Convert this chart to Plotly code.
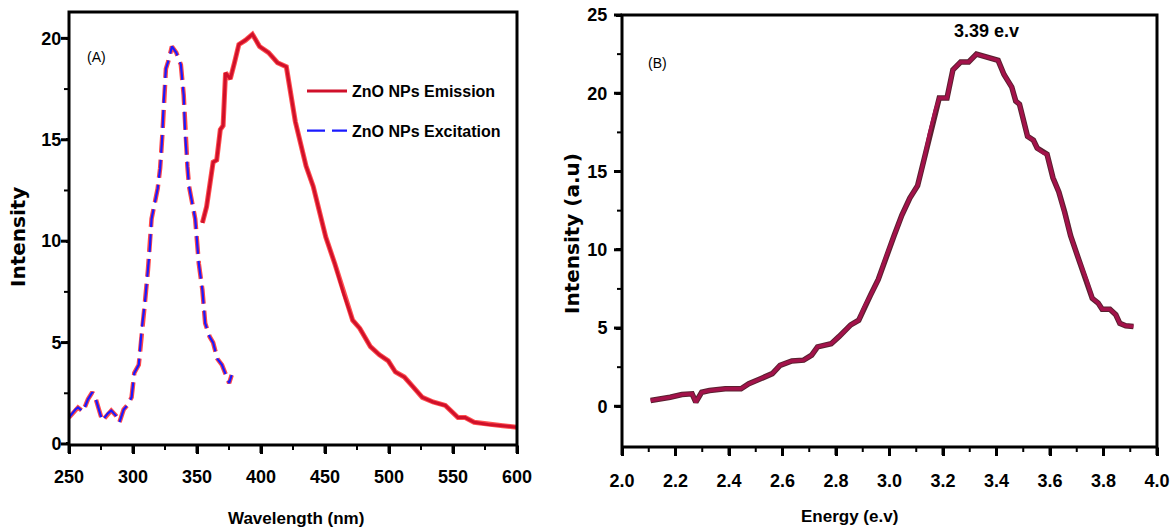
import plotly.graph_objects as go

# Panel A: emission spectrum (wavelength nm, intensity)
em_wl = [354.2, 357.5, 362.6, 365.4, 368.2, 370.4, 372.3, 376.0, 379.3, 382.7, 387.7, 393.3,
         398.9, 405.9, 412.9, 419.8, 426.8, 435.2, 440.8, 446.4, 450.6, 457.6, 464.6, 471.6,
         477.2, 485.5, 492.5, 499.4, 505.0, 512.0, 519.0, 526.0, 534.4, 544.0, 553.9, 559.5,
         566.5, 577.6, 588.8, 600.0]
em_int = [10.9, 11.7, 13.9, 14.0, 15.5, 15.7, 18.3, 18.0, 18.8, 19.7, 19.9, 20.2,
          19.6, 19.3, 18.8, 18.6, 15.9, 13.7, 12.7, 11.2, 10.2, 8.9, 7.4, 6.1,
          5.7, 4.8, 4.4, 4.1, 3.55, 3.3, 2.8, 2.3, 2.07, 1.9, 1.3, 1.3,
          1.07, 0.96, 0.9, 0.83]

# Panel A: excitation spectrum
ex_wl = [250.0, 255.0, 257.0, 261.0, 264.8, 268.2, 271.0, 276.0, 280.2, 283.0, 286.6, 289.4,
         292.7, 295.5, 298.9, 301.0, 304.5, 306.7, 309.5, 311.7, 313.1, 314.5, 319.3, 321.2,
         322.9, 324.0, 325.7, 327.7, 330.4, 333.8, 337.4, 339.6, 340.8, 342.5, 343.8, 348.6,
         351.4, 354.2, 356.4, 359.8, 362.6, 365.9, 369.5, 375.1, 377.1]
ex_int = [1.3, 1.7, 1.8, 1.6, 2.2, 2.55, 2.2, 1.15, 1.5, 1.65, 1.4, 1.07,
          1.7, 1.9, 2.3, 3.5, 3.9, 5.6, 7.1, 8.6, 9.6, 11.1, 12.6, 13.6,
          15.2, 16.9, 18.5, 18.9, 19.6, 19.3, 18.7, 17.2, 15.2, 13.7, 12.7, 11.1,
          8.9, 7.6, 5.95, 5.3, 5.0, 4.2, 3.9, 3.0, 3.4]

# Panel B: energy spectrum
en_ev = [2.107, 2.151, 2.18, 2.224, 2.262, 2.276, 2.298, 2.327, 2.386, 2.445, 2.474, 2.518,
         2.562, 2.591, 2.635, 2.679, 2.709, 2.731, 2.782, 2.811, 2.855, 2.885, 2.907, 2.929,
         2.958, 2.988, 3.017, 3.046, 3.076, 3.105, 3.127, 3.149, 3.171, 3.186, 3.215, 3.237,
         3.266, 3.296, 3.325, 3.369, 3.406, 3.428, 3.457, 3.472, 3.486, 3.516, 3.538, 3.552,
         3.574, 3.589, 3.611, 3.633, 3.655, 3.677, 3.707, 3.736, 3.758, 3.780, 3.795, 3.824,
         3.846, 3.861, 3.883, 3.912]
en_int = [0.37, 0.47, 0.58, 0.75, 0.8, 0.26, 0.9, 1.01, 1.12, 1.12, 1.44, 1.76,
          2.09, 2.62, 2.9, 2.95, 3.27, 3.8, 4.0, 4.45, 5.2, 5.5, 6.4, 7.1,
          8.1, 9.6, 10.9, 12.2, 13.3, 14.1, 15.6, 17.4, 18.9, 19.7, 19.7, 21.5,
          22.0, 22.0, 22.5, 22.3, 22.1, 21.2, 20.4, 19.5, 19.3, 17.25, 17.0, 16.5,
          16.2, 16.1, 14.6, 13.7, 12.4, 10.9, 9.4, 8.1, 6.9, 6.6, 6.2, 6.2,
          5.85, 5.3, 5.15, 5.1]

# Tick values
xa_ticks = [250, 300, 350, 400, 450, 500, 550, 600]
ya_ticks = [0, 5, 10, 15, 20]
xb_ticks = [2.0, 2.2, 2.4, 2.6, 2.8, 3.0, 3.2, 3.4, 3.6, 3.8, 4.0]
yb_ticks = [0, 5, 10, 15, 20, 25]

NARROW = "Liberation Sans Narrow, Arial Narrow, Liberation Sans, Arial, sans-serif"
WIDE = "DejaVu Sans, Verdana, sans-serif"

W, H = 1175, 528
ML, MR, MT, MB = 2, 2, 2, 2
PW, PH = W - ML - MR, H - MT - MB


def px_x(p):
    return (p - ML) / PW


def px_y(p):
    return 1 - (p - MT) / PH


# panel pixel boxes and ranges
A_L, A_R, A_T, A_B = 69, 517, 12, 445
B_L, B_R, B_T, B_B = 622, 1157, 15, 447
A_XR, A_YR = [250, 600], [-0.05, 21.3]
B_XR, B_YR = [2.0, 4.0], [-2.6, 25]
PAD = 10

fig = go.Figure()

fig.add_trace(go.Scatter(x=em_wl, y=em_int, mode="lines", xaxis="x", yaxis="y",
                         line=dict(color="rgba(255,20,20,0.75)", width=5),
                         showlegend=False, hoverinfo="skip"))
fig.add_trace(go.Scatter(x=em_wl, y=em_int, mode="lines", xaxis="x", yaxis="y",
                         name="ZnO NPs Emission", legendgroup="a",
                         line=dict(color="#d0102a", width=3)))
fig.add_trace(go.Scatter(x=ex_wl, y=ex_int, mode="lines", xaxis="x", yaxis="y",
                         line=dict(color="rgba(255,40,40,0.85)", width=4.5, dash="18px,7px"),
                         showlegend=False, hoverinfo="skip"))
fig.add_trace(go.Scatter(x=ex_wl, y=ex_int, mode="lines", xaxis="x", yaxis="y",
                         name="ZnO NPs Excitation", legendgroup="b",
                         line=dict(color="#1a1aff", width=2.2, dash="18px,7px")))

fig.add_trace(go.Scatter(x=en_ev, y=en_int, mode="lines", xaxis="x2", yaxis="y2",
                         line=dict(color="#5a2030", width=5.5), showlegend=False, hoverinfo="skip"))
fig.add_trace(go.Scatter(x=en_ev, y=en_int, mode="lines", xaxis="x2", yaxis="y2",
                         line=dict(color="#a3124a", width=3.5), showlegend=False))


def mids(vals):
    return [(a + b) / 2 for a, b in zip(vals[:-1], vals[1:])]


def frame_and_ticks(xax, yax, xr, yr, L, R, T, B, xt, yt):
    """Frame and outward ticks drawn on a hidden overlay subplot that is PAD px larger."""
    kx = (xr[1] - xr[0]) / (R - L)
    ky = (yr[1] - yr[0]) / (B - T)
    x0, x1 = xr
    y0, y1 = yr
    # frame
    fig.add_trace(go.Scatter(x=[x0, x1, x1, x0, x0], y=[y0, y0, y1, y1, y0], mode="lines",
                             xaxis=xax, yaxis=yax, line=dict(color="black", width=3),
                             showlegend=False, hoverinfo="skip"))
    for vals_x, vals_y, length, width in ((xt, yt, 8, 3), (mids(xt), mids(yt), 5, 2)):
        tx, ty = [], []
        for v in vals_x:
            tx += [v, v, None]
            ty += [y0, y0 - length * ky, None]
        for v in vals_y:
            tx += [x0, x0 - length * kx, None]
            ty += [v, v, None]
        fig.add_trace(go.Scatter(x=tx, y=ty, mode="lines", xaxis=xax, yaxis=yax,
                                 line=dict(color="black", width=width),
                                 showlegend=False, hoverinfo="skip"))
    xdom = [px_x(L - PAD), px_x(R + PAD)]
    ydom = [px_y(B + PAD), px_y(T - PAD)]
    xrng = [x0 - PAD * kx, x1 + PAD * kx]
    yrng = [y0 - PAD * ky, y1 + PAD * ky]
    return xdom, ydom, xrng, yrng


a_xd, a_yd, a_xr, a_yr = frame_and_ticks("x3", "y3", A_XR, A_YR, A_L, A_R, A_T, A_B, xa_ticks, ya_ticks)
b_xd, b_yd, b_xr, b_yr = frame_and_ticks("x4", "y4", B_XR, B_YR, B_L, B_R, B_T, B_B, xb_ticks, yb_ticks)

tickfont = dict(family=NARROW, size=18, color="black", weight="bold")


def axis_style(**kw):
    d = dict(showline=False, ticks="outside", ticklen=8, tickwidth=3, tickcolor="black",
             showgrid=False, zeroline=False, tickfont=tickfont)
    d.update(kw)
    return d


def hidden(dom, rng, anchor):
    return dict(domain=dom, range=rng, visible=False, showgrid=False, zeroline=False,
                fixedrange=True, anchor=anchor)


fig.update_layout(
    width=W, height=H,
    margin=dict(l=ML, r=MR, t=MT, b=MB, autoexpand=False),
    paper_bgcolor="white", plot_bgcolor="rgba(0,0,0,0)",
    xaxis=axis_style(domain=[px_x(A_L), px_x(A_R)], range=A_XR, tickvals=xa_ticks,
                     anchor="y", ticklabelstandoff=7),
    yaxis=axis_style(domain=[px_y(A_B), px_y(A_T)], range=A_YR, tickvals=ya_ticks,
                     anchor="x", ticklen=2, ticklabelstandoff=1),
    xaxis2=axis_style(domain=[px_x(B_L), px_x(B_R)], range=B_XR, tickvals=xb_ticks,
                      tickformat=".1f", anchor="y2", ticklabelstandoff=9),
    yaxis2=axis_style(domain=[px_y(B_B), px_y(B_T)], range=B_YR, tickvals=yb_ticks,
                      anchor="x2", ticklen=5, ticklabelstandoff=5),
    xaxis3=hidden(a_xd, a_xr, "y3"), yaxis3=hidden(a_yd, a_yr, "x3"),
    xaxis4=hidden(b_xd, b_xr, "y4"), yaxis4=hidden(b_yd, b_yr, "x4"),
    legend=dict(x=px_x(302), y=px_y(74), xanchor="left", yanchor="top",
                font=dict(family=NARROW, size=16, color="black", weight="bold"),
                bgcolor="rgba(0,0,0,0)", tracegroupgap=16, itemwidth=40),
    annotations=[
        dict(text="(A)", x=px_x(96), y=px_y(57), xref="paper", yref="paper", showarrow=False,
             xanchor="center", yanchor="middle", font=dict(family=NARROW, size=14, color="black")),
        dict(text="(B)", x=px_x(657), y=px_y(63), xref="paper", yref="paper", showarrow=False,
             xanchor="center", yanchor="middle", font=dict(family=NARROW, size=14, color="black")),
        dict(text="<b>3.39 e.v</b>", x=px_x(987), y=px_y(31), xref="paper", yref="paper",
             showarrow=False, xanchor="center", yanchor="middle",
             font=dict(family=NARROW, size=18, color="black")),
        dict(text="<b>Wavelength (nm)</b>", x=px_x(296), y=px_y(518), xref="paper", yref="paper",
             showarrow=False, xanchor="center", yanchor="middle",
             font=dict(family=NARROW, size=17, color="black")),
        dict(text="<b>Energy (e.v)</b>", x=px_x(849), y=px_y(516), xref="paper", yref="paper",
             showarrow=False, xanchor="center", yanchor="middle",
             font=dict(family=NARROW, size=17, color="black")),
        dict(text="<b>Intensity</b>", x=px_x(18), y=px_y(237), xref="paper", yref="paper",
             showarrow=False, textangle=-90, xanchor="center", yanchor="middle",
             font=dict(family=WIDE, size=20, color="black")),
        dict(text="<b>Intensity (a.u)</b>", x=px_x(572), y=px_y(234), xref="paper", yref="paper",
             showarrow=False, textangle=-90, xanchor="center", yanchor="middle",
             font=dict(family=WIDE, size=20, color="black")),
    ],
)

fig.write_html("out.html")
